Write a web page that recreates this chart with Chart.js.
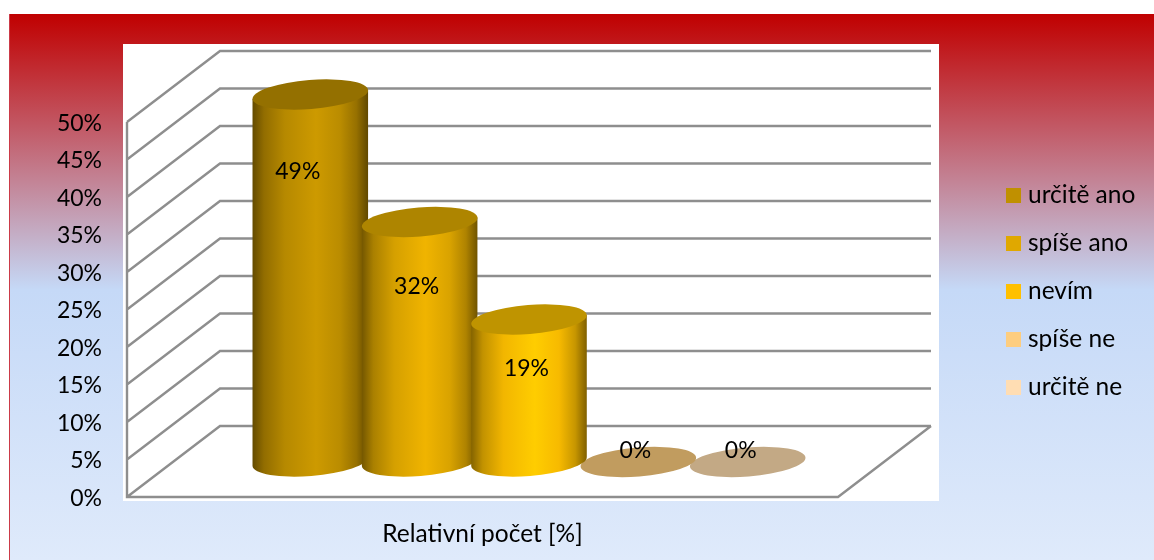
<!DOCTYPE html>
<html>
<head>
<meta charset="utf-8">
<style>html,body{margin:0;padding:0;background:#fff}canvas{display:block}</style>
<script src="https://cdn.jsdelivr.net/npm/chart.js@4"></script>
</head>
<body>
<canvas id="c" width="1154" height="560"></canvas>
<script>
const categories = ["Relativní počet [%]"];
const seriesNames = ["určitě ano", "spíše ano", "nevím", "spíše ne", "určitě ne"];
const seriesValues = [49, 32, 19, 0, 0];
const seriesColors = ["#C09000", "#E0A800", "#FFC000", "#FDCD7F", "#FFDDB3"];
const capColors = ["#947000", "#AE8500", "#BF9400", "#C19C5F", "#C3A985"];
const drawSequence = [4, 3, 0, 1, 2];
const labelNudge = [[-12.5, 77.5], [-3, 65.5], [-2.5, 49.5], [-3, -11], [-7, -11]];
const FONT = 'Lato, "Open Sans", sans-serif';
const NUM_SIZE = 23, TEXT_SIZE = 24.5;
const DEPTH_X = 93, DEPTH_Y = -71;

function shade(hex, f) {
  const n = parseInt(hex.slice(1), 16);
  const c = [n >> 16, (n >> 8) & 255, n & 255].map(v => Math.min(255, Math.round(v * f)));
  return `rgb(${c[0]},${c[1]},${c[2]})`;
}
function swatch(color) {
  const s = document.createElement('canvas');
  s.width = 15; s.height = 15;
  const g = s.getContext('2d');
  g.fillStyle = color; g.fillRect(0, 0, 15, 15);
  return s;
}
function drawCylinder(ctx, el, i) {
  const cx = el.x + DEPTH_X / 2, top = el.y + DEPTH_Y / 2 + 0.5, bottom = el.base + DEPTH_Y / 2;
  const a = el.width / 2, b = 14.5, rot = -4.5 * Math.PI / 180;
  const ex = a * Math.cos(rot), ey = a * Math.sin(rot);
  if (bottom - top > 1) {
    const g = ctx.createLinearGradient(cx - ex, 0, cx + ex, 0);
    const col = seriesColors[i];
    [[0, .52], [.1, .76], [.28, .95], [.55, 1.07], [.76, .97], [.9, .78], [1, .5]]
      .forEach(s => g.addColorStop(s[0], shade(col, s[1])));
    ctx.fillStyle = g;
    ctx.beginPath();
    ctx.ellipse(cx, bottom, a, b, rot, 0, Math.PI, false);
    ctx.lineTo(cx - ex, top - ey);
    ctx.lineTo(cx + ex, top + ey);
    ctx.closePath();
    ctx.fill();
  }
  ctx.fillStyle = capColors[i];
  ctx.beginPath();
  ctx.ellipse(cx, top, a, b, rot, 0, Math.PI * 2);
  ctx.fill();
}

const scenePlugin = {
  id: 'scene',
  beforeDraw(chart) {
    const ctx = chart.ctx, area = chart.chartArea, yS = chart.scales.y;
    const g = ctx.createLinearGradient(0, 14, 0, 560);
    g.addColorStop(0, '#C00000');
    g.addColorStop(.505, '#C5D9F7');
    g.addColorStop(1, '#DFEAFB');
    ctx.save();
    ctx.fillStyle = '#fff';
    ctx.fillRect(0, 0, 1154, 560);
    ctx.fillStyle = g;
    ctx.fillRect(9, 14, 1145, 546);
    ctx.fillStyle = '#CB3A47';
    ctx.fillRect(9, 14, 1, 546);
    ctx.fillStyle = '#fff';
    ctx.fillRect(123, 44, 816, 457);
    ctx.strokeStyle = '#8E8E8E';
    ctx.lineWidth = 2.4;
    ctx.beginPath();
    yS.ticks.forEach(t => {
      const y = yS.getPixelForValue(t.value);
      ctx.moveTo(area.left, y);
      ctx.lineTo(area.left + DEPTH_X, y + DEPTH_Y);
      ctx.lineTo(area.right + DEPTH_X, y + DEPTH_Y);
    });
    ctx.moveTo(area.left, area.top);
    ctx.lineTo(area.left, area.bottom);
    ctx.lineTo(area.right, area.bottom);
    ctx.lineTo(area.right + DEPTH_X, area.bottom + DEPTH_Y);
    ctx.stroke();
    ctx.restore();
  },
  afterLayout(chart) {
    const l = chart.legend;
    l.left = 987.75; l.right = 1154; l.top = 159.75; l.bottom = 470;
  },
  beforeDatasetsDraw(chart) {
    const ctx = chart.ctx;
    ctx.save();
    drawSequence.forEach(i => drawCylinder(ctx, chart.getDatasetMeta(i).data[0], i));
    ctx.fillStyle = '#000';
    ctx.font = `${NUM_SIZE}px ${FONT}`;
    ctx.textAlign = 'center';
    ctx.textBaseline = 'middle';
    seriesValues.forEach((v, i) => {
      const el = chart.getDatasetMeta(i).data[0];
      ctx.fillText(v + '%', el.x + DEPTH_X / 2 + labelNudge[i][0], el.y + DEPTH_Y / 2 + labelNudge[i][1]);
    });
    ctx.restore();
    return false;
  }
};

new Chart(document.getElementById('c'), {
  type: 'bar',
  data: {
    labels: categories,
    datasets: seriesNames.map((name, i) => ({
      label: name,
      data: [seriesValues[i]],
      backgroundColor: seriesColors[i]
    }))
  },
  options: {
    responsive: false,
    animation: false,
    events: [],
    layout: { padding: { left: 0, top: 122, right: 316, bottom: 0 } },
    datasets: { bar: { categoryPercentage: 0.769, barPercentage: 1.06 } },
    scales: {
      x: {
        grid: { display: false }, border: { display: false },
        ticks: { color: '#000', font: { family: FONT, size: TEXT_SIZE }, padding: 14, maxRotation: 0 },
        afterFit(s) { s.height = 63; }
      },
      y: {
        min: 0, max: 50,
        grid: { display: false, drawTicks: false }, border: { display: false },
        ticks: { stepSize: 5, color: '#000', font: { family: FONT, size: NUM_SIZE }, padding: 25, labelOffset: 1.5, callback: v => v + '%' },
        afterFit(s) { s.width = 127; }
      }
    },
    plugins: {
      tooltip: { enabled: false },
      legend: {
        position: 'chartArea',
        align: 'start',
        labels: {
          color: '#000',
          font: { family: FONT, size: TEXT_SIZE },
          padding: 23.5,
          usePointStyle: true,
          pointStyleWidth: 4.5,
          generateLabels: () => seriesNames.map((name, i) => ({
            text: name, fillStyle: seriesColors[i], strokeStyle: seriesColors[i],
            lineWidth: 0, pointStyle: swatch(seriesColors[i]), datasetIndex: i, hidden: false
          }))
        }
      }
    }
  },
  plugins: [scenePlugin]
});
</script>
</body>
</html>
